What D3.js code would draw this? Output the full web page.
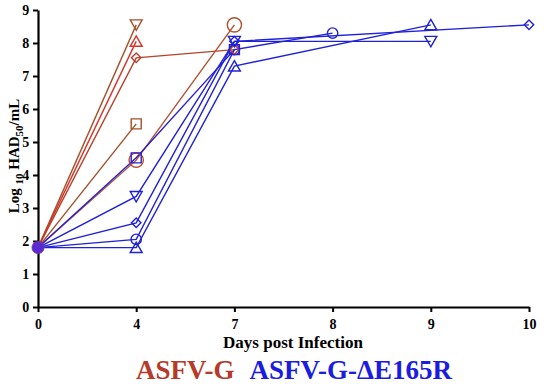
<!DOCTYPE html>
<html lang="en">
<head>
<meta charset="UTF-8">
<title>ASFV titers</title>
<script src="https://cdn.jsdelivr.net/npm/d3@7"></script>
<style>
body { margin: 0; background: #fff; }
text { font-family: 'Liberation Serif', 'Times New Roman', serif; font-weight: bold; }
</style>
</head>
<body>
<script>
// days on the x axis (plotted as evenly spaced categories)
const days = [0, 4, 7, 8, 9, 10];
const yTicks = [0, 1, 2, 3, 4, 5, 6, 7, 8, 9];
const groups = ['ASFV-G', 'ASFV-G-\u0394E165R'];

// one entry per animal: group, symbol, days sampled, log10 HAD50/mL
const animalGroup  = [0, 0, 0, 0, 0, 1, 1, 1, 1, 1];
const animalSymbol = ['down', 'up', 'diamond', 'square', 'circle', 'square', 'down', 'diamond', 'circle', 'up'];
const animalDays = [
    [0, 4], [0, 4], [0, 4, 7], [0, 4], [0, 4, 7],
    [0, 4, 7], [0, 4, 7, 9], [0, 4, 7, 10], [0, 4, 7, 8], [0, 4, 7, 9]
];
const animalTiters = [
    [1.8, 8.55], [1.8, 8.05], [1.8, 7.55, 7.8], [1.8, 5.55], [1.8, 4.45, 8.55],
    [1.8, 4.52, 7.8], [1.8, 3.35, 8.05, 8.05], [1.8, 2.55, 8.05, 8.55], [1.8, 2.05, 7.8, 8.3], [1.8, 1.8, 7.3, 8.55]
];

const width = 550, height = 386;
const lineColors = ['#a4532c', '#d5352b', '#b8432d', '#a3502b', '#b2512f',
                    '#2a1fd0', '#1f1fd8', '#2020dc', '#2222d6', '#1f22d8'];
const legendColors = ['#b53a2a', '#1c1ce0'];

const svg = d3.select('body').append('svg')
    .attr('width', width)
    .attr('height', height);

const x = d3.scalePoint().domain(days).range([38, 529]);
const y = d3.scaleLinear().domain([0, 9]).range([307, 10]);

// axes
const xAxis = svg.append('g')
    .attr('transform', `translate(0,${y(0)})`)
    .call(d3.axisBottom(x).tickSize(5).tickSizeOuter(0));
const yAxis = svg.append('g')
    .attr('transform', `translate(${x(0)},0)`)
    .call(d3.axisLeft(y).tickValues(yTicks).tickSize(5).tickSizeOuter(0));

[xAxis, yAxis].forEach(a => {
    a.select('.domain').attr('stroke', '#000').attr('stroke-width', 2.2);
    a.selectAll('.tick line').attr('stroke', '#000').attr('stroke-width', 2);
    a.selectAll('.tick text').attr('fill', '#000').style('font-size', '14px');
});
xAxis.selectAll('.tick text').attr('dy', '1.0em');
yAxis.selectAll('.tick text').attr('dx', '-0.05em');

// lines + markers per animal
const symbolFor = {
    up: { type: d3.symbolTriangle, size: 62, rot: 0, dy: 1.5 },
    down: { type: d3.symbolTriangle, size: 62, rot: 180, dy: -1.5 },
    diamond: { type: d3.symbolSquare, size: 45, rot: 45, dy: 0 },
    square: { type: d3.symbolSquare, size: 100, rot: 0, dy: 0 },
    circle: { type: d3.symbolCircle, size: 85, rot: 0, dy: 0 }
};

const animals = animalDays.map((ds, i) => ({
    i: i,
    group: animalGroup[i],
    symbol: animalSymbol[i],
    pts: ds.map((d, j) => ({ day: d, v: animalTiters[i][j] }))
}));

const line = d3.line().x(d => x(d.day)).y(d => y(d.v));

const g = svg.append('g');
g.selectAll('path.animal')
    .data(animals)
    .enter().append('path')
    .attr('class', 'animal')
    .attr('d', d => line(d.pts))
    .attr('fill', 'none')
    .attr('stroke', d => lineColors[d.i])
    .attr('stroke-width', 1.4);

animals.forEach(a => {
    const s = symbolFor[a.symbol];
    // the red circles are drawn a bit bigger
    const size = (a.symbol === 'circle' && a.group === 0) ? 160 : s.size;
    g.selectAll(null)
        .data(a.pts.filter(p => p.day !== 0))
        .enter().append('path')
        .attr('d', d3.symbol().type(s.type).size(size))
        .attr('transform', p => `translate(${x(p.day)},${y(p.v) + s.dy}) rotate(${s.rot})`)
        .attr('fill', 'none')
        .attr('stroke', lineColors[a.i])
        .attr('stroke-width', 1.4);
});

// all animals start at day 0 -> overlapping blob
g.append('circle')
    .attr('cx', x(0))
    .attr('cy', y(1.8))
    .attr('r', 6)
    .attr('fill', '#5a2bd0')
    .attr('stroke', '#7a2fb0')
    .attr('stroke-width', 1);

// axis titles
svg.append('text')
    .attr('x', 293)
    .attr('y', 348)
    .attr('text-anchor', 'middle')
    .style('font-size', '17px')
    .text('Days post Infection');

const yLabel = svg.append('text')
    .attr('transform', 'translate(19,156) rotate(-90)')
    .attr('text-anchor', 'middle')
    .style('font-size', '15px');
yLabel.append('tspan').text('Log ');
yLabel.append('tspan').attr('dy', 4).style('font-size', '11px').text('10');
yLabel.append('tspan').attr('dy', -4).text(' HAD');
yLabel.append('tspan').attr('dy', 4).style('font-size', '11px').text('50');
yLabel.append('tspan').attr('dy', -4).text('/mL');

// legend
const legend = svg.append('text')
    .attr('x', 136)
    .attr('y', 379)
    .style('font-size', '27px');
legend.append('tspan').attr('fill', legendColors[0]).text(groups[0]);
legend.append('tspan').attr('dx', 15).attr('fill', legendColors[1]).text(groups[1]);
</script>
</body>
</html>
